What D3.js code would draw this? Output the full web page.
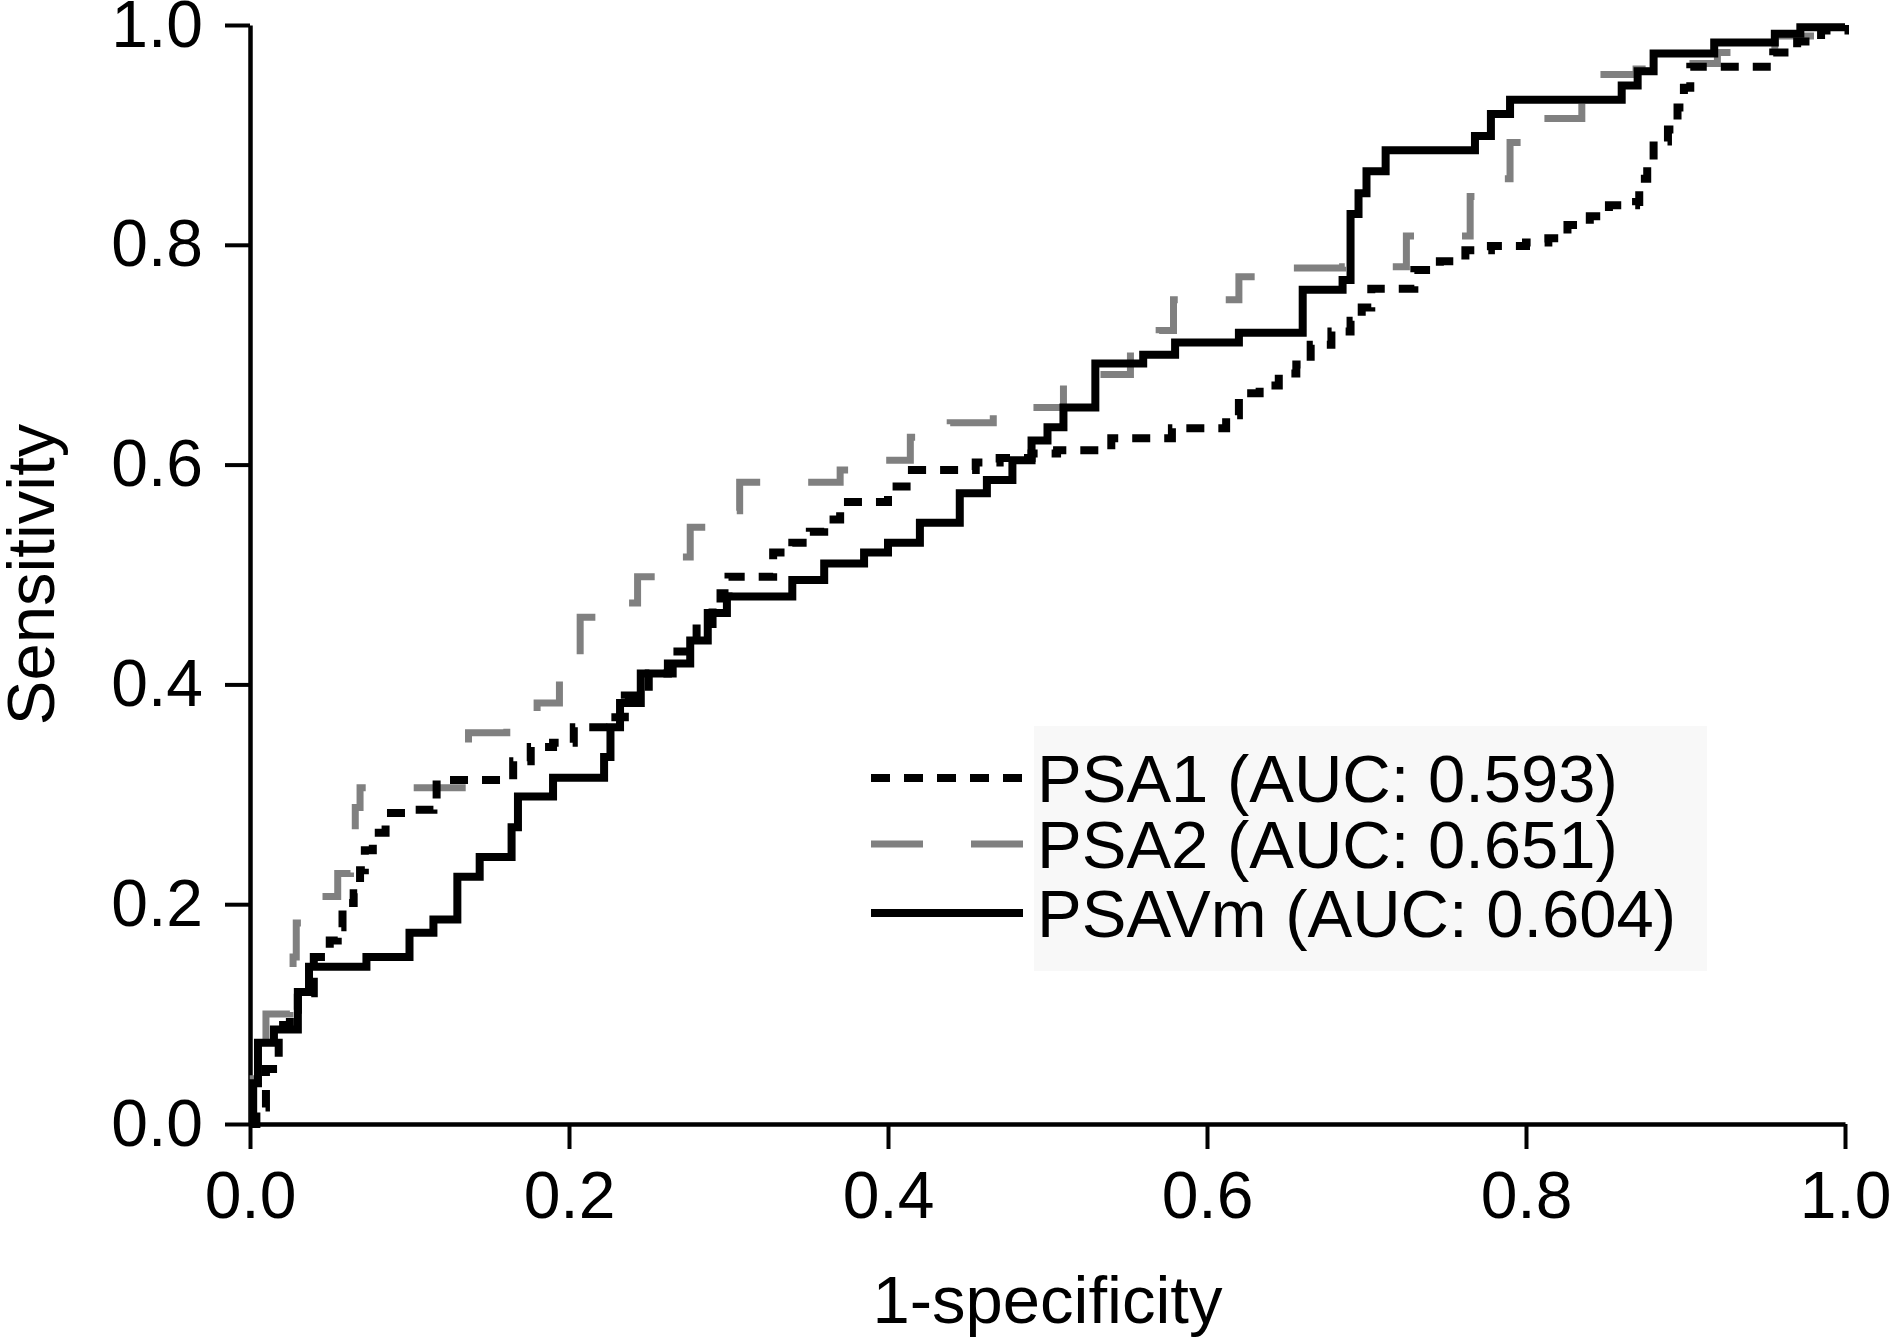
<!DOCTYPE html>
<html>
<head>
<meta charset="utf-8">
<script src="https://cdn.jsdelivr.net/npm/d3@7"></script>
<style>
  body { margin: 0; background: #fff; }
  text { font-family: "Liberation Sans", Arial, sans-serif; fill: #000; }
</style>
</head>
<body>
<div id="chart"></div>
<script>
// ROC curves, each point = [1-specificity, sensitivity], drawn as step-after
const psa1 = [[0,0],[0.004,0.015],[0.01,0.05],[0.018,0.09],[0.025,0.104],[0.03,0.119],[0.04,0.152],[0.05,0.167],[0.055,0.179],[0.058,0.201],[0.065,0.21],[0.069,0.231],[0.072,0.249],[0.077,0.265],[0.085,0.283],[0.10,0.286],[0.115,0.288],[0.117,0.313],[0.165,0.33],[0.176,0.343],[0.19,0.347],[0.203,0.361],[0.225,0.37],[0.235,0.39],[0.25,0.41],[0.265,0.43],[0.28,0.455],[0.29,0.47],[0.295,0.483],[0.30,0.498],[0.328,0.52],[0.34,0.529],[0.351,0.539],[0.36,0.55],[0.37,0.566],[0.40,0.58],[0.415,0.595],[0.455,0.602],[0.47,0.606],[0.49,0.61],[0.506,0.613],[0.54,0.624],[0.578,0.633],[0.612,0.645],[0.62,0.665],[0.633,0.672],[0.645,0.683],[0.656,0.691],[0.665,0.709],[0.678,0.721],[0.69,0.731],[0.697,0.743],[0.703,0.76],[0.73,0.777],[0.746,0.785],[0.762,0.795],[0.778,0.799],[0.80,0.802],[0.814,0.806],[0.826,0.818],[0.84,0.826],[0.852,0.836],[0.869,0.839],[0.871,0.86],[0.876,0.876],[0.88,0.894],[0.889,0.905],[0.895,0.925],[0.899,0.943],[0.903,0.962],[0.95,0.962],[0.955,0.975],[0.97,0.985],[0.985,0.995],[1,1]];

const psa2 = [[0,0],[0.002,0.052],[0.008,0.065],[0.01,0.10],[0.025,0.122],[0.027,0.152],[0.029,0.183],[0.04,0.207],[0.055,0.228],[0.063,0.252],[0.066,0.288],[0.069,0.306],[0.117,0.306],[0.136,0.322],[0.137,0.356],[0.161,0.37],[0.18,0.383],[0.194,0.422],[0.207,0.461],[0.226,0.474],[0.243,0.498],[0.265,0.516],[0.276,0.543],[0.297,0.558],[0.307,0.584],[0.34,0.584],[0.37,0.595],[0.39,0.604],[0.414,0.625],[0.439,0.638],[0.466,0.652],[0.50,0.652],[0.51,0.682],[0.541,0.682],[0.552,0.704],[0.57,0.722],[0.579,0.75],[0.61,0.75],[0.62,0.771],[0.65,0.779],[0.685,0.78],[0.717,0.78],[0.725,0.808],[0.761,0.808],[0.765,0.844],[0.786,0.86],[0.79,0.893],[0.808,0.915],[0.835,0.935],[0.838,0.955],[0.869,0.96],[0.875,0.965],[0.92,0.975],[0.956,0.99],[0.99,0.99],[1,1]];

const psavm = [[0,0],[0.002,0.037],[0.005,0.074],[0.015,0.086],[0.03,0.12],[0.037,0.143],[0.073,0.152],[0.10,0.174],[0.115,0.186],[0.13,0.225],[0.144,0.243],[0.164,0.27],[0.168,0.298],[0.19,0.315],[0.222,0.334],[0.226,0.361],[0.232,0.383],[0.245,0.41],[0.262,0.419],[0.276,0.44],[0.287,0.465],[0.299,0.48],[0.34,0.495],[0.36,0.51],[0.385,0.52],[0.40,0.529],[0.42,0.547],[0.445,0.574],[0.462,0.586],[0.478,0.604],[0.49,0.622],[0.50,0.634],[0.51,0.652],[0.53,0.692],[0.56,0.70],[0.58,0.711],[0.62,0.72],[0.66,0.759],[0.685,0.768],[0.69,0.828],[0.695,0.847],[0.70,0.867],[0.712,0.886],[0.768,0.899],[0.778,0.919],[0.79,0.932],[0.86,0.945],[0.87,0.958],[0.88,0.974],[0.918,0.984],[0.956,0.992],[0.972,0.998],[1.0,1.0]];

const legendLabels = ['PSA1 (AUC: 0.593)', 'PSA2 (AUC: 0.651)', 'PSAVm (AUC: 0.604)'];
const ticks = [0, 0.2, 0.4, 0.6, 0.8, 1.0];

// set the dimensions and margins of the graph
const W = 1891, H = 1338;
const margin = { top: 25, right: 46, bottom: 214, left: 250 };
const width = W - margin.left - margin.right;
const height = H - margin.top - margin.bottom;

const root = d3.select('#chart')
    .append('svg')
    .attr('width', W)
    .attr('height', H);
const svg = root.append('g')
    .attr('transform', `translate(${margin.left},${margin.top})`);

const xScale = d3.scaleLinear().domain([0, 1]).range([0, width]);
const yScale = d3.scaleLinear().domain([0, 1]).range([height, 0]);

// axes
const xAxis = svg.append('g')
    .attr('transform', `translate(0, ${height})`)
    .call(d3.axisBottom(xScale).tickValues(ticks).tickFormat(d3.format('.1f'))
        .tickSize(25).tickSizeOuter(0).tickPadding(22));
const yAxis = svg.append('g')
    .call(d3.axisLeft(yScale).tickValues(ticks).tickFormat(d3.format('.1f'))
        .tickSize(25).tickSizeOuter(0).tickPadding(22));
[xAxis, yAxis].forEach(a => {
    a.select('.domain').attr('stroke', '#000').attr('stroke-width', 4.5);
    a.selectAll('.tick line').attr('stroke', '#000').attr('stroke-width', 4);
    a.selectAll('.tick text').attr('font-size', '66px')
        .attr('font-family', '"Liberation Sans", Arial, sans-serif').attr('fill', '#000');
});

// axis titles
svg.append('text')
    .attr('x', width / 2)
    .attr('y', height + 199)
    .attr('text-anchor', 'middle')
    .attr('font-size', '67px')
    .text('1-specificity');
svg.append('text')
    .attr('transform', `translate(${-196}, ${height / 2}) rotate(-90)`)
    .attr('text-anchor', 'middle')
    .attr('font-size', '67px')
    .text('Sensitivity');

// legend background
svg.append('rect')
    .attr('x', 1034 - margin.left)
    .attr('y', 726 - margin.top)
    .attr('width', 673)
    .attr('height', 245)
    .attr('fill', '#f8f8f8');

const series = [
    { data: psa2, color: '#808080', width: 7, dash: '52,48' },
    { data: psa1, color: '#000', width: 8, dash: '18,14' },
    { data: psavm, color: '#000', width: 8, dash: null }
];

const line = d3.line()
    .x(d => xScale(d[0]))
    .y(d => yScale(d[1]))
    .curve(d3.curveStepAfter);

series.forEach(s => {
    svg.append('path')
        .datum(s.data)
        .attr('fill', 'none')
        .attr('stroke', s.color)
        .attr('stroke-width', s.width)
        .attr('stroke-dasharray', s.dash)
        .attr('d', line);
});

// legend
const legendStyle = [
    { color: '#000', width: 8, dash: '19,14' },
    { color: '#808080', width: 7, dash: '52,48' },
    { color: '#000', width: 8, dash: null }
];
const rowY = [778, 844, 913];
legendLabels.forEach((lab, i) => {
    const y = rowY[i] - margin.top;
    svg.append('line')
        .attr('x1', 871 - margin.left).attr('x2', 1023 - margin.left)
        .attr('y1', y).attr('y2', y)
        .attr('stroke', legendStyle[i].color)
        .attr('stroke-width', legendStyle[i].width)
        .attr('stroke-dasharray', legendStyle[i].dash);
    svg.append('text')
        .attr('x', 1037 - margin.left)
        .attr('y', y)
        .attr('dy', '0.36em')
        .attr('font-size', '67px')
        .text(lab);
});
</script>
</body>
</html>
